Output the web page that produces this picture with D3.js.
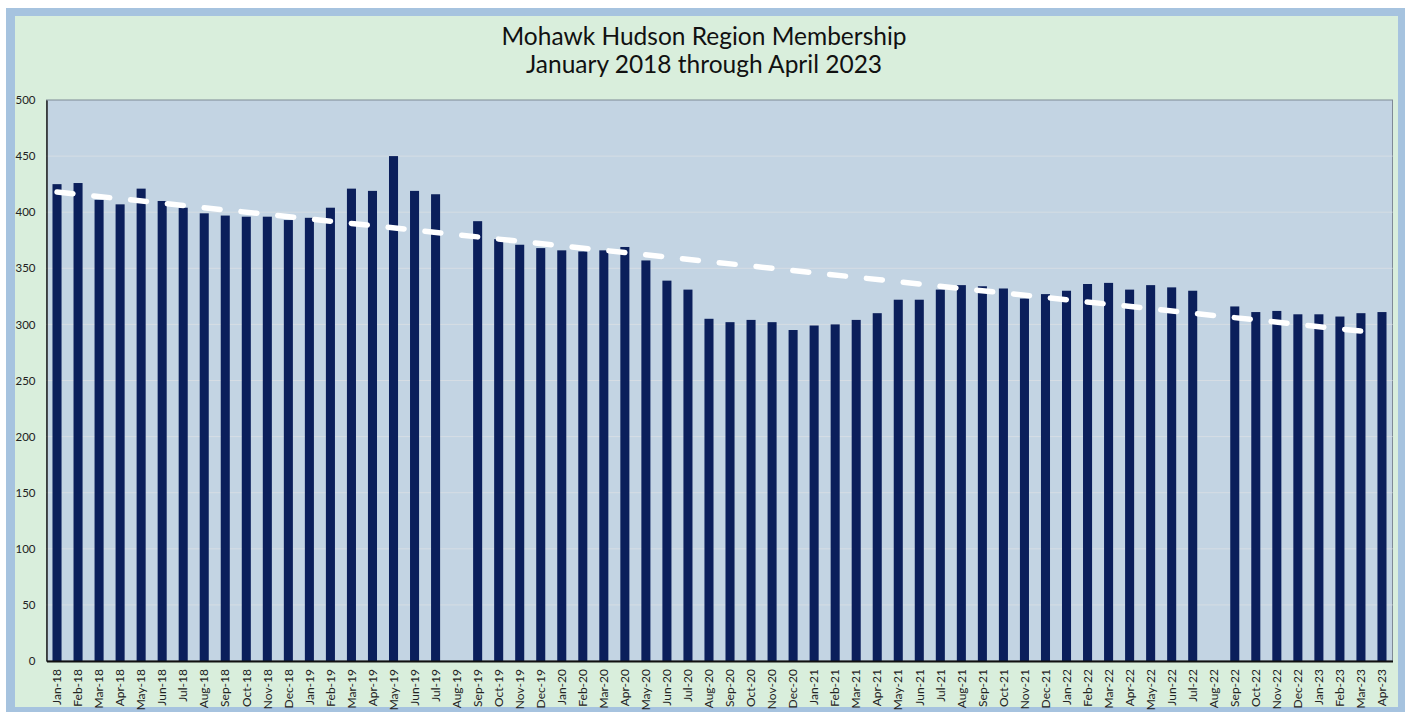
<!DOCTYPE html>
<html>
<head>
<meta charset="utf-8">
<script src="https://cdn.jsdelivr.net/npm/d3@7"></script>
<style>
  body { margin: 0; background: #fff; }
  .chart text { font-family: Lato, "Open Sans", sans-serif; }
</style>
</head>
<body>
<div class="chart"></div>
<script>
const months = ["Jan-18","Feb-18","Mar-18","Apr-18","May-18","Jun-18","Jul-18","Aug-18","Sep-18","Oct-18","Nov-18","Dec-18",
  "Jan-19","Feb-19","Mar-19","Apr-19","May-19","Jun-19","Jul-19","Aug-19","Sep-19","Oct-19","Nov-19","Dec-19",
  "Jan-20","Feb-20","Mar-20","Apr-20","May-20","Jun-20","Jul-20","Aug-20","Sep-20","Oct-20","Nov-20","Dec-20",
  "Jan-21","Feb-21","Mar-21","Apr-21","May-21","Jun-21","Jul-21","Aug-21","Sep-21","Oct-21","Nov-21","Dec-21",
  "Jan-22","Feb-22","Mar-22","Apr-22","May-22","Jun-22","Jul-22","Aug-22","Sep-22","Oct-22","Nov-22","Dec-22",
  "Jan-23","Feb-23","Mar-23","Apr-23"];

// null = no bar that month
const members = [425,426,411,407,421,410,404,399,397,396,396,393,
  395,404,421,419,450,419,416,null,392,376,371,368,
  366,365,366,369,357,339,331,305,302,304,302,295,
  299,300,304,310,322,322,331,335,334,332,323,327,
  330,336,337,331,335,333,330,null,316,311,312,309,
  309,307,310,311];

const yTicks = [0,50,100,150,200,250,300,350,400,450,500];

// trendline end points as drawn
const trendMonths = ["Jan-18","Mar-23"];
const trendValues = [418,294];

const titleLines = ["Mohawk Hudson Region Membership","January 2018 through April 2023"];

const W = 1405, H = 712;
const margin = ({top: 100, right: 12.5, bottom: 51, left: 46.5});
const width = W - margin.left - margin.right,
      height = H - margin.top - margin.bottom;

const svg = d3.select(".chart").append("svg")
  .attr("width", W)
  .attr("height", H);

// frame
svg.append("rect").attr("x", 6).attr("y", 8).attr("width", W - 6).attr("height", H - 8)
  .attr("fill", "#a6c3df");
svg.append("rect").attr("x", 15).attr("y", 16).attr("width", W - 15 - 7).attr("height", H - 16 - 5)
  .attr("fill", "#d9eedc");

svg.selectAll(".title")
  .data(titleLines)
  .enter()
  .append("text")
  .attr("x", 704)
  .attr("y", (d, i) => 45 + i * 28)
  .attr("text-anchor", "middle")
  .attr("font-size", 24.5)
  .attr("fill", "#111")
  .text(d => d);

const g = svg.append("g")
  .attr("transform", "translate(" + margin.left + "," + margin.top + ")");

const xScale = d3.scaleBand()
  .domain(months)
  .range([0, width])
  .paddingInner(0.57)
  .paddingOuter(0.285);

const yScale = d3.scaleLinear()
  .domain([0, 500])
  .range([height, 0]);

g.append("rect")
  .attr("width", width)
  .attr("height", height)
  .attr("fill", "#c3d4e3")
  .attr("stroke", "#7f8a96")
  .attr("stroke-width", 1);

g.selectAll(".grid")
  .data(yTicks.filter(d => d > 0 && d < 500))
  .enter()
  .append("line")
  .attr("x1", 0)
  .attr("x2", width)
  .attr("y1", d => yScale(d))
  .attr("y2", d => yScale(d))
  .attr("stroke", "#d6dde4")
  .attr("stroke-width", 1);

const data = months.map((m, i) => ({month: m, value: members[i]})).filter(d => d.value != null);

g.selectAll(".bar")
  .data(data)
  .enter()
  .append("rect")
  .attr("x", d => xScale(d.month))
  .attr("y", d => yScale(d.value))
  .attr("width", xScale.bandwidth())
  .attr("height", d => height - yScale(d.value))
  .attr("fill", "#0b1f5b");

// trendline
const trend = d3.line()
  .x(d => xScale(d[0]) + xScale.bandwidth() / 2)
  .y(d => yScale(d[1]));

g.append("path")
  .datum(trendMonths.map((m, i) => [m, trendValues[i]]))
  .attr("d", trend)
  .attr("fill", "none")
  .attr("stroke", "#ffffff")
  .attr("stroke-width", 5.5)
  .attr("stroke-linecap", "round")
  .attr("stroke-dasharray", "16,21");

// axes
const yAxis = d3.axisLeft(yScale)
  .tickValues(yTicks)
  .tickSize(0)
  .tickPadding(11);

g.append("g")
  .attr("class", "axis y-axis")
  .call(yAxis)
  .call(s => s.select(".domain").attr("stroke", "#222").attr("stroke-width", 1.5))
  .selectAll("text")
  .attr("font-size", 11.5)
  .attr("fill", "#222");

const xAxis = d3.axisBottom(xScale)
  .tickSize(0)
  .tickPadding(0);

g.append("g")
  .attr("class", "axis x-axis")
  .attr("transform", `translate(0, ${height})`)
  .call(xAxis)
  .call(s => s.select(".domain").attr("stroke", "#111").attr("stroke-width", 2))
  .selectAll("text")
  .attr("font-size", 12)
  .attr("fill", "#222")
  .attr("text-anchor", "end")
  .attr("dy", "0.35em")
  .attr("transform", "translate(0,8) rotate(-90)")
  .attr("x", 0)
  .attr("y", 0);
</script>
</body>
</html>
